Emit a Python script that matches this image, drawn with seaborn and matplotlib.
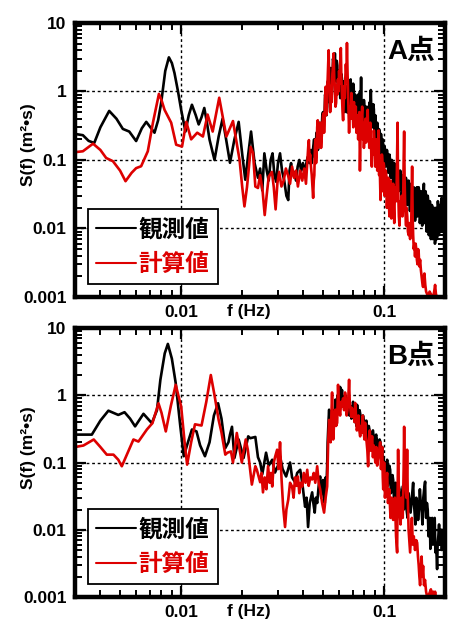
import numpy as np
import pandas as pd
import matplotlib
matplotlib.use("Agg")
import matplotlib.pyplot as plt
import seaborn as sns
from matplotlib.ticker import LogLocator, NullFormatter, FixedLocator, FixedFormatter

# ======================= data =======================
# ---- Panel A (A点), observed (black) : low-frequency part ----
fA_obs_lo = [0.00300, 0.00328, 0.00350, 0.00373, 0.00400, 0.00442, 0.00480, 0.00516, 0.00555, 0.00600,
             0.00640, 0.00673, 0.00705, 0.00739, 0.00770, 0.00797, 0.00835, 0.00870, 0.00900, 0.00927,
             0.00965, 0.0100, 0.0105, 0.0109, 0.0113, 0.0118, 0.0122, 0.0126, 0.0130, 0.0134,
             0.0138, 0.0146, 0.0153, 0.0160, 0.0167, 0.0174, 0.0183, 0.0192, 0.0200, 0.0207,
             0.0214, 0.0221, 0.0230, 0.0239, 0.0245, 0.0251, 0.0257, 0.0264, 0.0270, 0.0276,
             0.0282, 0.0288, 0.0294, 0.0300, 0.0307, 0.0314, 0.0322, 0.0330, 0.0337, 0.0342,
             0.0348, 0.0354, 0.0360, 0.0368, 0.0375, 0.0382, 0.0390, 0.0398, 0.0405, 0.0412,
             0.0420, 0.0428]
SA_obs_lo = [0.24, 0.23, 0.19, 0.177, 0.30, 0.52, 0.40, 0.284, 0.26, 0.189,
             0.29, 0.36, 0.30, 0.25, 0.38, 0.68, 2.0, 3.15, 2.6, 1.86,
             1.0, 0.54, 0.26, 0.45, 0.64, 0.45, 0.33, 0.42, 0.574, 0.35,
             0.198, 0.10, 0.22, 0.40, 0.19, 0.091, 0.2, 0.36, 0.12, 0.0515,
             0.12, 0.26, 0.09, 0.055, 0.075, 0.036, 0.125, 0.07, 0.05, 0.1,
             0.125, 0.06, 0.048, 0.09, 0.125, 0.07, 0.05, 0.03, 0.026, 0.07,
             0.09, 0.06, 0.067, 0.05, 0.08, 0.1, 0.07, 0.09, 0.065, 0.085,
             0.11, 0.09]
# ---- Panel A observed : high-frequency (noisy) part ----
fA_obs_hi = [0.0436, 0.0440, 0.0444, 0.0448, 0.0452, 0.0456, 0.0460, 0.0464, 0.0468, 0.0472,
             0.0476, 0.0480, 0.0484, 0.0488, 0.0492, 0.0496, 0.0500, 0.0504, 0.0508, 0.0512,
             0.0516, 0.0520, 0.0524, 0.0528, 0.0532, 0.0536, 0.0540, 0.0544, 0.0548, 0.0552,
             0.0556, 0.0560, 0.0564, 0.0568, 0.0572, 0.0576, 0.0580, 0.0584, 0.0588, 0.0592,
             0.0596, 0.0600, 0.0604, 0.0608, 0.0612, 0.0616, 0.0620, 0.0624, 0.0628, 0.0632,
             0.0636, 0.0640, 0.0644, 0.0648, 0.0652, 0.0656, 0.0660, 0.0664, 0.0668, 0.0672,
             0.0676, 0.0680, 0.0684, 0.0688, 0.0692, 0.0696, 0.0700, 0.0704, 0.0708, 0.0712,
             0.0716, 0.0720, 0.0724, 0.0728, 0.0732, 0.0736, 0.0740, 0.0745, 0.0750, 0.0755,
             0.0760, 0.0765, 0.0770, 0.0775, 0.0780, 0.0785, 0.0790, 0.0795, 0.0800, 0.0805,
             0.0810, 0.0815, 0.0820, 0.0825, 0.0830, 0.0835, 0.0840, 0.0845, 0.0850, 0.0855,
             0.0860, 0.0865, 0.0870, 0.0875, 0.0880, 0.0885, 0.0890, 0.0895, 0.0900, 0.0905,
             0.0910, 0.0915, 0.0920, 0.0925, 0.0930, 0.0935, 0.0940, 0.0945, 0.0950, 0.0955,
             0.0960, 0.0965, 0.0970, 0.0975, 0.0980, 0.0985, 0.0990, 0.0995, 0.1000, 0.1005,
             0.1010, 0.1018, 0.1025, 0.1032, 0.1040, 0.1048, 0.1055, 0.1062, 0.1070, 0.1078,
             0.1085, 0.1092, 0.1100, 0.1108, 0.1115, 0.1122, 0.1130, 0.1140, 0.1150, 0.1160,
             0.1170, 0.1180, 0.1190, 0.1200, 0.1210, 0.1220, 0.1230, 0.1240, 0.1250, 0.1260,
             0.1270, 0.1280, 0.1290, 0.1300, 0.1310, 0.1320, 0.1330, 0.1340, 0.1350, 0.1360,
             0.1370, 0.1380, 0.1390, 0.1400, 0.1410, 0.1420, 0.1430, 0.1440, 0.1450, 0.1460,
             0.1470, 0.1480, 0.1490, 0.1500, 0.1510, 0.1520, 0.1530, 0.1540, 0.1550, 0.1560,
             0.1570, 0.1580, 0.1590, 0.1600, 0.1610, 0.1620, 0.1630, 0.1640, 0.1650, 0.1660,
             0.1670, 0.1680, 0.1690, 0.1700, 0.1710, 0.1720, 0.1730, 0.1740, 0.1750, 0.1760,
             0.1770, 0.1780, 0.1790, 0.1800, 0.1810, 0.1820, 0.1830, 0.1840, 0.1850, 0.1860,
             0.1870, 0.1880, 0.1890, 0.1900, 0.1910, 0.1920, 0.1930, 0.1940, 0.1950, 0.1960,
             0.1970, 0.1985, 0.2000]
SA_obs_hi = [0.14, 0.09, 0.12, 0.16, 0.2, 0.11, 0.15, 0.25, 0.22, 0.14,
             0.18, 0.35, 0.3, 0.2, 0.25, 0.45, 0.5, 0.3, 0.4, 0.9,
             0.75, 0.45, 0.6, 1.4, 1.2, 0.7, 0.9, 2.2, 1.9, 0.9,
             1.3, 3.0, 2.6, 1.5, 3.6, 1.4, 1.9, 2.8, 2.4, 1.0,
             1.2, 2.0, 1.6, 0.8, 1.0, 1.8, 1.5, 0.7, 0.95, 1.4,
             0.7, 0.5, 1.1, 0.9, 0.6, 1.2, 0.49, 0.7, 0.9, 0.5,
             0.7, 1.3, 1.5, 0.6, 1.0, 0.55, 0.7, 1.3, 1.17, 0.5,
             0.6, 0.9, 0.45, 0.35, 0.8, 0.5, 0.68, 0.9, 0.5, 0.35,
             1.0, 0.6, 1.6, 0.5, 0.7, 0.3, 0.4, 0.75, 0.6, 0.3,
             0.35, 0.6, 0.49, 0.25, 0.28, 0.6, 0.5, 0.35, 0.7, 0.45,
             1.05, 0.5, 0.6, 0.3, 0.4, 0.65, 0.55, 0.28, 0.38, 0.45,
             0.3, 0.2, 0.22, 0.35, 0.3, 0.16, 0.18, 0.28, 0.22, 0.13,
             0.15, 0.24, 0.2, 0.11, 0.14, 0.2, 0.16, 0.09, 0.11, 0.16,
             0.14, 0.08, 0.1, 0.14, 0.12, 0.065, 0.08, 0.12, 0.1, 0.055,
             0.07, 0.1, 0.09, 0.045, 0.06, 0.09, 0.08, 0.04, 0.05, 0.08,
             0.07, 0.035, 0.04, 0.07, 0.06, 0.03, 0.035, 0.06, 0.05, 0.025,
             0.03, 0.055, 0.045, 0.022, 0.028, 0.05, 0.04, 0.018, 0.025, 0.045,
             0.035, 0.015, 0.02, 0.04, 0.03, 0.013, 0.018, 0.035, 0.04, 0.015,
             0.02, 0.04, 0.035, 0.012, 0.016, 0.035, 0.03, 0.011, 0.015, 0.03,
             0.045, 0.012, 0.017, 0.035, 0.03, 0.009, 0.012, 0.03, 0.025, 0.008,
             0.009, 0.025, 0.02, 0.007, 0.01, 0.022, 0.018, 0.007, 0.008, 0.02,
             0.016, 0.006, 0.007, 0.02, 0.014, 0.007, 0.01, 0.025, 0.02, 0.008,
             0.009, 0.022, 0.018, 0.009, 0.012, 0.028, 0.022, 0.009, 0.01, 0.022,
             0.017, 0.01, 0.012]

# ---- Panel A, computed (red) ----
fA_cal_lo = [0.00300, 0.00328, 0.00368, 0.00400, 0.00427, 0.00461, 0.00500, 0.00532, 0.00570, 0.00600,
             0.00635, 0.00685, 0.00726, 0.00777, 0.00800, 0.00828, 0.00893, 0.00945, 0.0101, 0.0106,
             0.0112, 0.0120, 0.0128, 0.0135, 0.0143, 0.0154, 0.0167, 0.0180, 0.0194, 0.0200,
             0.0205, 0.0211, 0.0216, 0.0220, 0.0226, 0.0232, 0.0239, 0.0245, 0.0252, 0.0258,
             0.0264, 0.0270, 0.0280, 0.0286, 0.0292, 0.0298, 0.0304, 0.0312, 0.0320, 0.0328,
             0.0336, 0.0344, 0.0352, 0.0360, 0.0368, 0.0376, 0.0386, 0.0395, 0.0404, 0.0412]
SA_cal_lo = [0.13, 0.134, 0.173, 0.14, 0.107, 0.096, 0.07, 0.049, 0.065, 0.076,
             0.081, 0.134, 0.35, 0.92, 0.75, 0.54, 0.35, 0.167, 0.157, 0.36,
             0.2, 0.25, 0.22, 0.46, 0.26, 0.81, 0.22, 0.37, 0.1, 0.04,
             0.021, 0.04, 0.082, 0.155, 0.126, 0.041, 0.039, 0.06, 0.035, 0.0157,
             0.031, 0.057, 0.067, 0.04, 0.019, 0.046, 0.067, 0.041, 0.05, 0.075,
             0.06, 0.045, 0.08, 0.055, 0.07, 0.041, 0.07, 0.05, 0.075, 0.045]
fA_cal_hi = [0.0420, 0.0423, 0.0426, 0.0429, 0.0432, 0.0436, 0.0440, 0.0444, 0.0447, 0.0450,
             0.0453, 0.0456, 0.0459, 0.0462, 0.0465, 0.0468, 0.0471, 0.0474, 0.0477, 0.0480,
             0.0483, 0.0486, 0.0489, 0.0492, 0.0496, 0.0500, 0.0503, 0.0506, 0.0509, 0.0512,
             0.0515, 0.0518, 0.0521, 0.0524, 0.0527, 0.0530, 0.0533, 0.0536, 0.0539, 0.0542,
             0.0545, 0.0548, 0.0552, 0.0556, 0.0560, 0.0564, 0.0568, 0.0572, 0.0576, 0.0580,
             0.0584, 0.0588, 0.0592, 0.0596, 0.0600, 0.0604, 0.0608, 0.0612, 0.0616, 0.0620,
             0.0624, 0.0628, 0.0632, 0.0636, 0.0640, 0.0644, 0.0648, 0.0652, 0.0656, 0.0660,
             0.0664, 0.0668, 0.0672, 0.0676, 0.0680, 0.0685, 0.0690, 0.0695, 0.0700, 0.0705,
             0.0710, 0.0715, 0.0720, 0.0725, 0.0730, 0.0735, 0.0740, 0.0745, 0.0750, 0.0755,
             0.0760, 0.0765, 0.0770, 0.0775, 0.0780, 0.0785, 0.0790, 0.0795, 0.0800, 0.0805,
             0.0810, 0.0815, 0.0820, 0.0825, 0.0830, 0.0835, 0.0840, 0.0845, 0.0850, 0.0855,
             0.0860, 0.0865, 0.0870, 0.0875, 0.0880, 0.0885, 0.0890, 0.0895, 0.0900, 0.0905,
             0.0910, 0.0915, 0.0920, 0.0925, 0.0930, 0.0935, 0.0940, 0.0945, 0.0950, 0.0955,
             0.0960, 0.0965, 0.0970, 0.0975, 0.0980, 0.0985, 0.0990, 0.0995, 0.1000, 0.1005,
             0.1010, 0.1018, 0.1025, 0.1032, 0.1040, 0.1048, 0.1055, 0.1062, 0.1070, 0.1078,
             0.1085, 0.1092, 0.1100, 0.1108, 0.1115, 0.1122, 0.1130, 0.1140, 0.1150, 0.1158,
             0.1165, 0.1170, 0.1175, 0.1182, 0.1190, 0.1200, 0.1210, 0.1220, 0.1230, 0.1240,
             0.1248, 0.1255, 0.1262, 0.1270, 0.1277, 0.1283, 0.1290, 0.1300, 0.1310, 0.1320,
             0.1330, 0.1343, 0.1352, 0.1360, 0.1367, 0.1374, 0.1382, 0.1390, 0.1400, 0.1410,
             0.1420, 0.1430, 0.1440, 0.1450, 0.1460, 0.1470, 0.1480, 0.1490, 0.1504, 0.1517,
             0.1530, 0.1543, 0.1556, 0.1568, 0.1580, 0.1595, 0.1610, 0.1630, 0.1650, 0.1675,
             0.1700, 0.1720, 0.1743, 0.1765, 0.1783, 0.1800, 0.1820, 0.1880]
SA_cal_hi = [0.11, 0.16, 0.195, 0.1, 0.12, 0.08, 0.06, 0.04, 0.028, 0.05,
             0.06, 0.15, 0.2, 0.09, 0.12, 0.3, 0.38, 0.15, 0.245, 0.18,
             0.3, 0.35, 0.15, 0.2, 0.3, 0.45, 0.48, 0.25, 0.38, 0.8,
             1.17, 0.45, 0.6, 1.2, 1.5, 2.5, 4.0, 1.5, 1.0, 0.5,
             0.68, 1.2, 0.7, 1.8, 2.4, 3.6, 1.5, 1.2, 0.6, 0.68,
             1.2, 0.9, 1.5, 1.0, 2.0, 1.3, 2.8, 4.3, 1.5, 0.9,
             0.5, 0.38, 0.7, 1.2, 0.8, 1.6, 2.5, 1.8, 5.1, 2.0,
             1.0, 0.5, 0.25, 0.45, 0.6, 0.4, 0.95, 0.6, 0.5, 0.3,
             0.7, 0.35, 0.4, 0.6, 0.25, 0.4, 0.45, 0.2, 0.35, 0.5,
             0.07, 0.2, 0.3, 0.45, 0.6, 0.2, 0.3, 0.15, 0.22, 0.35,
             0.4, 0.18, 0.25, 0.4, 0.54, 0.2, 0.3, 0.15, 0.27, 0.35,
             0.2, 0.12, 0.08, 0.15, 0.2, 0.12, 0.27, 0.2, 0.15, 0.08,
             0.1, 0.2, 0.18, 0.07, 0.1, 0.2, 0.27, 0.06, 0.1, 0.05,
             0.026, 0.05, 0.07, 0.12, 0.1, 0.035, 0.05, 0.09, 0.08, 0.03,
             0.03, 0.07, 0.06, 0.02, 0.04, 0.055, 0.025, 0.015, 0.036, 0.05,
             0.014, 0.02, 0.03, 0.045, 0.02, 0.012, 0.04, 0.03, 0.025, 0.1,
             0.35, 0.06, 0.03, 0.015, 0.011, 0.025, 0.02, 0.03, 0.015, 0.02,
             0.1, 0.26, 0.05, 0.02, 0.015, 0.011, 0.02, 0.015, 0.009, 0.008,
             0.012, 0.007, 0.01, 0.012, 0.03, 0.08, 0.015, 0.008, 0.005, 0.006,
             0.0039, 0.006, 0.005, 0.0035, 0.003, 0.005, 0.0045, 0.0028, 0.0035, 0.0025,
             0.002, 0.0016, 0.0014, 0.002, 0.0022, 0.0015, 0.0012, 0.0011, 0.001, 0.0012,
             0.0011, 0.0009, 0.001, 0.0012, 0.0015, 0.0011, 0.001, 0.0009]

# ---- Panel B (B点), observed (black) ----
fB_obs_lo = [0.00300, 0.00330, 0.00363, 0.00400, 0.00438, 0.00490, 0.00526, 0.00560, 0.00593, 0.00652,
             0.00717, 0.00760, 0.0079, 0.0083, 0.0086, 0.0090, 0.0094, 0.0099, 0.0103, 0.0108,
             0.0113, 0.0119, 0.0124, 0.0131, 0.0138, 0.0145, 0.0152, 0.0158, 0.0165, 0.0171,
             0.0174, 0.0178, 0.0183, 0.0192, 0.0203, 0.0214, 0.0219, 0.0232, 0.0239, 0.0245,
             0.0251, 0.0262, 0.0270, 0.0281, 0.0290, 0.0300, 0.0307, 0.0316, 0.0329, 0.0337,
             0.0344, 0.0352, 0.0364, 0.0373, 0.0386, 0.0395, 0.0408, 0.0415, 0.0422, 0.0430]
SB_obs_lo = [0.26, 0.26, 0.26, 0.42, 0.59, 0.51, 0.56, 0.45, 0.345, 0.53,
             0.385, 0.6, 1.7, 4.2, 5.8, 3.5, 1.52, 0.35, 0.124, 0.2,
             0.31, 0.29, 0.18, 0.124, 0.2, 0.5, 0.76, 0.45, 0.164, 0.2,
             0.26, 0.34, 0.117, 0.22, 0.117, 0.245, 0.23, 0.24, 0.12, 0.1,
             0.067, 0.14, 0.09, 0.11, 0.071, 0.09, 0.124, 0.08, 0.062, 0.08,
             0.1, 0.06, 0.051, 0.07, 0.078, 0.05, 0.022, 0.03, 0.011, 0.025]
fB_obs_hi = [0.0442, 0.0448, 0.0455, 0.0461, 0.0468, 0.0476, 0.0484, 0.0490, 0.0495, 0.0500,
             0.0506, 0.0510, 0.0515, 0.0520, 0.0524, 0.0527, 0.0530, 0.0533, 0.0536, 0.0540,
             0.0545, 0.0550, 0.0555, 0.0560, 0.0565, 0.0570, 0.0575, 0.0580, 0.0585, 0.0590,
             0.0595, 0.0600, 0.0604, 0.0607, 0.0611, 0.0615, 0.0620, 0.0625, 0.0630, 0.0635,
             0.0640, 0.0645, 0.0650, 0.0657, 0.0663, 0.0670, 0.0675, 0.0680, 0.0685, 0.0690,
             0.0696, 0.0703, 0.0710, 0.0717, 0.0725, 0.0730, 0.0736, 0.0743, 0.0750, 0.0757,
             0.0765, 0.0772, 0.0779, 0.0787, 0.0795, 0.0802, 0.0810, 0.0817, 0.0825, 0.0832,
             0.0840, 0.0848, 0.0856, 0.0865, 0.0873, 0.0881, 0.0890, 0.0897, 0.0905, 0.0914,
             0.0924, 0.0932, 0.0940, 0.0950, 0.0960, 0.0969, 0.0978, 0.0985, 0.0990, 0.1000,
             0.1010, 0.1022, 0.1035, 0.1042, 0.1050, 0.1060, 0.1071, 0.1080, 0.1090, 0.1100,
             0.1108, 0.1120, 0.1130, 0.1140, 0.1150, 0.1160, 0.1170, 0.1180, 0.1190, 0.1200,
             0.1210, 0.1225, 0.1240, 0.1250, 0.1260, 0.1275, 0.1290, 0.1305, 0.1320, 0.1335,
             0.1350, 0.1370, 0.1390, 0.1400, 0.1410, 0.1425, 0.1440, 0.1455, 0.1470, 0.1485,
             0.1500, 0.1515, 0.1530, 0.1545, 0.1560, 0.1575, 0.1592, 0.1600, 0.1610, 0.1625,
             0.1640, 0.1655, 0.1670, 0.1680, 0.1690, 0.1700, 0.1710, 0.1725, 0.1740, 0.1750,
             0.1760, 0.1775, 0.1790, 0.1805, 0.1824, 0.1835, 0.1850, 0.1865, 0.1880, 0.1895,
             0.1910, 0.1925, 0.1940, 0.1955, 0.1970, 0.1985, 0.2000]
SB_obs_hi = [0.036, 0.025, 0.018, 0.03, 0.025, 0.045, 0.062, 0.03, 0.04, 0.055,
             0.036, 0.025, 0.06, 0.045, 0.088, 0.2, 0.3, 0.45, 0.61, 0.3,
             0.4, 0.25, 0.34, 0.45, 0.6, 0.4, 0.86, 0.6, 0.8, 1.0,
             0.7, 1.1, 0.8, 1.33, 1.1, 0.9, 1.2, 0.8, 0.95, 0.65,
             0.75, 1.0, 0.6, 0.68, 0.9, 0.8, 0.5, 0.7, 0.6, 0.45,
             0.55, 0.8, 0.65, 0.4, 0.5, 0.35, 0.72, 0.5, 0.45, 0.6,
             0.5, 0.3, 0.39, 0.5, 0.42, 0.26, 0.3, 0.42, 0.31, 0.22,
             0.35, 0.3, 0.245, 0.18, 0.28, 0.3, 0.22, 0.16, 0.24, 0.26,
             0.2, 0.14, 0.18, 0.22, 0.2, 0.12, 0.17, 0.1, 0.12, 0.07,
             0.1, 0.06, 0.11, 0.045, 0.06, 0.09, 0.078, 0.035, 0.04, 0.065,
             0.055, 0.025, 0.03, 0.05, 0.045, 0.02, 0.022, 0.045, 0.04, 0.018,
             0.02, 0.035, 0.045, 0.02, 0.03, 0.04, 0.02, 0.015, 0.035, 0.025,
             0.018, 0.03, 0.05, 0.025, 0.02, 0.012, 0.03, 0.025, 0.014, 0.02,
             0.04, 0.025, 0.02, 0.012, 0.03, 0.04, 0.052, 0.02, 0.015, 0.025,
             0.02, 0.008, 0.01, 0.015, 0.0052, 0.009, 0.012, 0.015, 0.006, 0.012,
             0.01, 0.015, 0.0046, 0.006, 0.0026, 0.006, 0.008, 0.012, 0.006, 0.009,
             0.01, 0.005, 0.0072, 0.01, 0.008, 0.005, 0.007]

# ---- Panel B, computed (red) ----
fB_cal_lo = [0.00300, 0.00330, 0.00371, 0.00400, 0.00430, 0.00464, 0.00490, 0.00510, 0.00545, 0.00582,
             0.00616, 0.00678, 0.00722, 0.00773, 0.00800, 0.00840, 0.00890, 0.00940, 0.0100, 0.0104,
             0.0107, 0.0112, 0.0117, 0.0126, 0.0133, 0.0140, 0.0146, 0.0153, 0.0158, 0.0165,
             0.0169, 0.0176, 0.0180, 0.0188, 0.0199, 0.0208, 0.0213, 0.0223, 0.0232, 0.0236,
             0.0245, 0.0249, 0.0253, 0.0258, 0.0263, 0.0268, 0.0273, 0.0277, 0.0281, 0.0286,
             0.0290]
SB_cal_lo = [0.17, 0.179, 0.22, 0.17, 0.131, 0.131, 0.11, 0.088, 0.14, 0.22,
             0.205, 0.31, 0.385, 0.76, 0.55, 0.29, 0.7, 1.43, 0.68, 0.2,
             0.093, 0.2, 0.37, 0.355, 0.8, 2.0, 1.0, 0.43, 0.28, 0.131,
             0.14, 0.146, 0.1, 0.275, 0.1, 0.22, 0.155, 0.047, 0.088, 0.078,
             0.051, 0.07, 0.036, 0.06, 0.04, 0.088, 0.05, 0.07, 0.044, 0.1,
             0.12]
fB_cal_hi = [0.0297, 0.0302, 0.0307, 0.0312, 0.0318, 0.0322, 0.0325, 0.0330, 0.0337, 0.0344,
             0.0352, 0.0358, 0.0364, 0.0370, 0.0376, 0.0382, 0.0388, 0.0395, 0.0402, 0.0410,
             0.0418, 0.0425, 0.0433, 0.0442, 0.0450, 0.0458, 0.0468, 0.0476, 0.0484, 0.0495,
             0.0506, 0.0515, 0.0524, 0.0530, 0.0536, 0.0540, 0.0545, 0.0550, 0.0554, 0.0558,
             0.0561, 0.0566, 0.0570, 0.0575, 0.0580, 0.0587, 0.0590, 0.0593, 0.0597, 0.0602,
             0.0607, 0.0614, 0.0621, 0.0628, 0.0635, 0.0642, 0.0648, 0.0654, 0.0660, 0.0666,
             0.0672, 0.0677, 0.0683, 0.0688, 0.0694, 0.0700, 0.0707, 0.0714, 0.0720, 0.0727,
             0.0734, 0.0740, 0.0747, 0.0755, 0.0762, 0.0770, 0.0778, 0.0785, 0.0792, 0.0800,
             0.0806, 0.0813, 0.0820, 0.0827, 0.0834, 0.0842, 0.0850, 0.0858, 0.0866, 0.0873,
             0.0881, 0.0888, 0.0895, 0.0905, 0.0915, 0.0924, 0.0934, 0.0945, 0.0956, 0.0965,
             0.0978, 0.0985, 0.0990, 0.1000, 0.1010, 0.1022, 0.1035, 0.1045, 0.1060, 0.1075,
             0.1090, 0.1100, 0.1108, 0.1120, 0.1130, 0.1145, 0.1159, 0.1165, 0.1172, 0.1180,
             0.1190, 0.1205, 0.1220, 0.1235, 0.1248, 0.1255, 0.1262, 0.1275, 0.1287, 0.1298,
             0.1308, 0.1320, 0.1330, 0.1343, 0.1355, 0.1370, 0.1385, 0.1400, 0.1420, 0.1440,
             0.1455, 0.1468, 0.1480, 0.1492, 0.1504, 0.1517, 0.1530, 0.1543, 0.1556, 0.1572,
             0.1590, 0.1610, 0.1630, 0.1665, 0.1700, 0.1720, 0.1743, 0.1765, 0.1783, 0.1800,
             0.1820]
SB_cal_hi = [0.155, 0.08, 0.2, 0.06, 0.022, 0.015, 0.011, 0.02, 0.028, 0.05,
             0.044, 0.03, 0.06, 0.045, 0.062, 0.035, 0.05, 0.044, 0.07, 0.05,
             0.078, 0.045, 0.06, 0.056, 0.07, 0.05, 0.088, 0.05, 0.04, 0.025,
             0.018, 0.03, 0.044, 0.2, 0.43, 0.3, 0.2, 0.5, 1.1, 0.4,
             0.22, 0.35, 0.5, 0.61, 0.35, 0.39, 0.8, 1.43, 0.8, 0.6,
             0.5, 0.8, 0.68, 0.9, 0.6, 1.1, 0.8, 0.5, 0.6, 0.9,
             1.7, 0.8, 0.6, 0.48, 0.65, 0.48, 0.6, 0.4, 0.77, 0.5,
             0.3, 0.35, 0.5, 0.3, 0.245, 0.35, 0.28, 0.5, 0.3, 0.22,
             0.39, 0.25, 0.2, 0.15, 0.088, 0.2, 0.3, 0.15, 0.2, 0.245,
             0.12, 0.18, 0.15, 0.1, 0.17, 0.09, 0.12, 0.15, 0.2, 0.08,
             0.17, 0.06, 0.04, 0.1, 0.03, 0.05, 0.07, 0.025, 0.04, 0.015,
             0.03, 0.02, 0.014, 0.025, 0.03, 0.008, 0.0046, 0.03, 0.155, 0.04,
             0.02, 0.012, 0.03, 0.015, 0.08, 0.34, 0.08, 0.05, 0.03, 0.155,
             0.03, 0.01, 0.007, 0.0046, 0.008, 0.015, 0.006, 0.008, 0.005, 0.007,
             0.0064, 0.004, 0.003, 0.002, 0.0015, 0.0025, 0.004, 0.002, 0.0029, 0.0015,
             0.0018, 0.0012, 0.001, 0.0011, 0.0013, 0.001, 0.0012, 0.001, 0.0012, 0.001,
             0.0009]

series_labels = ["観測値", "計算値"]
panel_titles = ["A点", "B点"]
x_tick_vals = [0.01, 0.1]
x_tick_labels = ["0.01", "0.1"]
y_tick_vals = [0.001, 0.01, 0.1, 1, 10]
y_tick_labels = ["0.001", "0.01", "0.1", "1", "10"]

# ======================= style =======================
sns.set_style("white")
plt.rcParams["font.family"] = ["Liberation Sans", "Noto Sans CJK JP", "DejaVu Sans"]
plt.rcParams["font.weight"] = "bold"
plt.rcParams["axes.labelweight"] = "bold"
plt.rcParams["text.color"] = "black"
plt.rcParams["axes.labelcolor"] = "black"
plt.rcParams["xtick.color"] = "black"
plt.rcParams["ytick.color"] = "black"

BLACK = "#000000"
RED = "#dd0000"

fig = plt.figure(figsize=(4.52, 6.26), dpi=100)
axA = fig.add_axes([0.166, 0.5256, 0.819, 0.4377])
axB = fig.add_axes([0.166, 0.0463, 0.819, 0.4297])

panels = [
    (axA, fA_obs_lo + fA_obs_hi, SA_obs_lo + SA_obs_hi,
     fA_cal_lo + fA_cal_hi, SA_cal_lo + SA_cal_hi, panel_titles[0], 0.895),
    (axB, fB_obs_lo + fB_obs_hi, SB_obs_lo + SB_obs_hi,
     fB_cal_lo + fB_cal_hi, SB_cal_lo + SB_cal_hi, panel_titles[1], 0.892),
]

for ax, fo, so, fc, sc, title, ty in panels:
    df_o = pd.DataFrame({"f": fo, "S": so})
    df_c = pd.DataFrame({"f": fc, "S": sc})
    sns.lineplot(data=df_o, x="f", y="S", ax=ax, color=BLACK, linewidth=1.9,
                 estimator=None, sort=False, label=series_labels[0])
    sns.lineplot(data=df_c, x="f", y="S", ax=ax, color=RED, linewidth=1.9,
                 estimator=None, sort=False, label=series_labels[1])
    ax.set_xscale("log")
    ax.set_yscale("log")
    ax.set_xlim(0.003, 0.2)
    ax.set_ylim(0.001, 10)

    ax.xaxis.set_major_locator(FixedLocator(x_tick_vals))
    ax.xaxis.set_major_formatter(FixedFormatter(x_tick_labels))
    ax.yaxis.set_major_locator(FixedLocator(y_tick_vals))
    ax.yaxis.set_major_formatter(FixedFormatter(y_tick_labels))
    ax.xaxis.set_minor_locator(LogLocator(base=10, subs=np.arange(2, 10), numticks=20))
    ax.yaxis.set_minor_locator(LogLocator(base=10, subs=np.arange(2, 10), numticks=20))
    ax.xaxis.set_minor_formatter(NullFormatter())
    ax.yaxis.set_minor_formatter(NullFormatter())

    ax.tick_params(which="both", direction="in", top=True, right=True,
                   bottom=True, left=True, colors="black")
    ax.tick_params(which="major", length=8, width=1.6, labelsize=12.5, pad=6)
    ax.tick_params(which="minor", length=5, width=1.4)
    for lab in ax.get_xticklabels() + ax.get_yticklabels():
        lab.set_fontweight("bold")

    for sp in ax.spines.values():
        sp.set_linewidth(3.2)
        sp.set_color("black")

    ax.grid(True, which="major", linestyle=(0, (2, 2)), color="black", linewidth=1.0)

    ax.set_xlabel("f (Hz)", fontsize=12.5, fontweight="bold", va="center", color="black")
    ax.xaxis.set_label_coords(0.47, -0.052)
    ax.set_ylabel("S(f) (m²•s)", fontsize=12.5, fontweight="bold", va="center", color="black")
    ax.yaxis.set_label_coords(-0.127, 0.555)

    ax.text(0.972, ty, title, transform=ax.transAxes, ha="right", va="center",
            fontsize=20, fontweight="bold", zorder=5, color="black",
            family=["Liberation Sans", "Noto Sans CJK JP"],
            bbox=dict(facecolor="white", edgecolor="none", pad=0.5))

    leg = ax.legend(loc="lower left", bbox_to_anchor=(0.035, 0.047), borderaxespad=0,
                    handlelength=1.7, handletextpad=0.1, frameon=True,
                    fancybox=False, framealpha=1, edgecolor="black", borderpad=0.35,
                    labelspacing=0.45,
                    prop={"family": ["Noto Sans CJK JP"], "weight": "bold", "size": 17})
    leg.get_frame().set_linewidth(1.3)
    for txt, col in zip(leg.get_texts(), [BLACK, RED]):
        txt.set_color(col)
    for ln in leg.get_lines():
        ln.set_linewidth(1.5)

fig.savefig("out.png", dpi=100, facecolor="white")
